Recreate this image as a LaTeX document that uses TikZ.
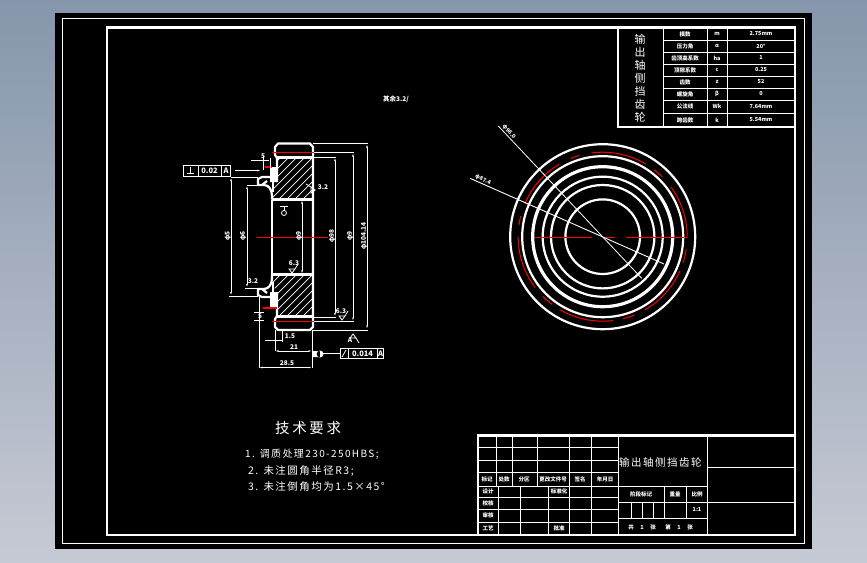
\documentclass[tikz,border=0pt]{standalone}
\usepackage{fontspec}
\setmainfont{Noto Sans CJK SC}
\newfontfamily\cjkw[LetterSpace=14]{Noto Sans CJK SC}
\usetikzlibrary{arrows.meta}
\definecolor{bgtop}{RGB}{134,150,172}
\definecolor{bgbot}{RGB}{198,202,212}
\definecolor{redline}{RGB}{255,0,0}
\tikzset{
  x=1pt,y=-1pt,
  frame/.style={draw=white,line width=2.4pt},
  thinframe/.style={draw=white,line width=1pt},
  grid/.style={draw=white,line width=1pt},
  outline/.style={draw=white,line width=2.2pt,line join=round},
  redc/.style={draw=redline,line width=1.3pt},
  dim/.style={draw=white,line width=0.8pt},
  dimarrow/.style={dim,{Latex[length=3.5pt,width=1.8pt]}-{Latex[length=3.5pt,width=1.8pt]}},
  hatchline/.style={draw=white,line width=0.7pt},
  tiny/.style={text=white,font=\fontsize{5.5}{5.5}\selectfont\bfseries,inner sep=0pt},
  dimtext/.style={text=white,font=\fontsize{6.5}{6.5}\selectfont\bfseries,inner sep=0pt},
  fcf/.style={text=white,font=\fontsize{7.5}{8}\selectfont\bfseries,inner sep=0pt},
  cjkbig/.style={text=white,font=\fontsize{10.5}{11}\selectfont\cjkw,inner sep=0pt,anchor=west},
  sfin/.pic={\draw[dim] (-3,-4) -- (0,0) -- (3,-4) -- cycle (3,-4) -- (6,-9);}
}
\begin{document}
\begin{tikzpicture}
\useasboundingbox (0,0) rectangle (867,562);
\shade[top color=bgtop,bottom color=bgbot] (0,0) rectangle (867,562);
\fill[black] (55,13) rectangle (812,549);
\draw[thinframe] (62,18.5) rectangle (804.5,543.5);
\draw[frame] (107,27.5) rectangle (795,535);

% ---------- parameter table
\draw[frame] (618,27.5) -- (618,127) -- (795,127);
\foreach \yy in {40,52,64,76,88,100,113} \draw[grid] (663,\yy) -- (795,\yy);
\foreach \xx in {663,707,727} \draw[grid] (\xx,27.5) -- (\xx,127);
\foreach \ch [count=\i] in {输,出,轴,侧,挡,齿,轮}
  \node[text=white,font=\fontsize{11}{11}\selectfont,inner sep=0pt] (tc\i) at (640,{26+\i*13}) {\ch};
\foreach \a/\b/\c/\yy [count=\i] in {
  模数/m/2.75mm/34, 压力角/α/20°/46, 齿顶高系数/ha/1/58, 顶隙系数/c/0.25/70,
  齿数/z/52/82, 螺旋角/β/0/94, 公法线/Wk/7.64mm/106.5, 跨齿数/k/5.54mm/120}{
  \node[tiny] (pa\i) at (685,\yy) {\a};
  \node[tiny] (pb\i) at (717,\yy) {\b};
  \node[tiny] (pc\i) at (761,\yy) {\c};
}

% ---------- title block
\draw[frame] (478,435.5) rectangle (795,535);
\draw[grid] (478,447) -- (618,447) (478,460) -- (618,460) (478,472) -- (618,472);
\draw[grid] (478,486) -- (707,486) (478,497) -- (618,497) (478,509) -- (618,509) (478,522) -- (618,522);
\foreach \xx in {496,512,537,569,591} \draw[grid] (\xx,435.5) -- (\xx,486);
\foreach \xx in {498,520,548,569,591} \draw[grid] (\xx,486) -- (\xx,535);
\draw[grid] (618,435.5) -- (618,535) (707,435.5) -- (707,535);
\draw[grid] (618,502) -- (707,502) (618,518) -- (707,518);
\draw[grid] (664,486) -- (664,518) (686,486) -- (686,518);
\foreach \xx in {631,642,653} \draw[grid] (\xx,502) -- (\xx,518);
\draw[grid] (707,467) -- (795,467) (707,502) -- (795,502);
\node[cjkbig] (ttl) at (619,462) {输出轴侧挡齿轮};
\foreach \t/\xx/\yy [count=\i] in {
  标记/487/479, 处数/504/479, 分区/524/479, 更改文件号/553/479, 签名/580/479, 年月日/605/479,
  设计/488/491, 校核/488/503, 审核/488/515.5, 工艺/488/528.5, 标准化/559/491, 批准/559/528.5,
  阶段标记/641/494, 重量/675/494, 比例/697/494,
  共/631/527, 张/653/527, 第/668/527, 张/690/527}{
  \node[tiny] (tb\i) at (\xx,\yy) {\t};
}
\node[tiny] (tbs) at (697,510) {1:1};
\node[tiny] (tbn1) at (642,527) {1};
\node[tiny] (tbn2) at (679,527) {1};

% ---------- technical requirements
\node[text=white,font=\fontsize{14.5}{15}\selectfont,inner sep=0pt,anchor=west] (req) at (275,428) {\addfontfeature{LetterSpace=18}技术要求};
\node[cjkbig,font=\fontsize{10}{11}\selectfont\cjkw] (r1) at (245,454) {1. 调质处理230-250HBS;};
\node[cjkbig] (r2) at (248,471) {2. 未注圆角半径R3;};
\node[cjkbig] (r3) at (248,487) {3. 未注倒角均为1.5×45°};

% ---------- section view: hatching
\begin{scope}
\clip (277,158) -- (313,158) -- (313,199) -- (273,199) -- (273,190) -- (277,180) -- cycle;
\foreach \k in {230,238,...,330} \draw[hatchline] (\k,200) -- (\k+50,150);
\end{scope}
\begin{scope}
\clip (277,316) -- (313,316) -- (313,275) -- (273,275) -- (273,284) -- (277,294) -- cycle;
\foreach \k in {230,238,...,330} \draw[hatchline] (\k,325) -- (\k+60,265);
\end{scope}

% ---------- section view: outline
\draw[outline] (272,199.5) -- (272,196) .. controls (272,190) and (269,185) .. (264,185) -- (258,185) -- (258,179) -- (262,177) -- (270,177) (262,185) -- (267,181);
\draw[outline] (277,182) -- (277,158) -- (275,155) -- (275,147) -- (278,143.5) -- (310,143.5) -- (313,147) -- (313,327) -- (310,330) -- (278,330) -- (275,327) -- (275,319) -- (277,316) -- (277,292);
\draw[outline] (272,274.5) -- (272,278) .. controls (272,284) and (269,289) .. (264,289) -- (258,289) -- (258,295) -- (262,297) -- (270,297) (262,289) -- (267,293);
\draw[outline] (272,199.5) -- (272,274.5);
\draw[outline] (272,199.5) -- (313,199.5) (272,274.5) -- (313,274.5) (277,157.5) -- (313,157.5) (277,316.5) -- (313,316.5);
\fill[white] (270,167) rectangle (277,182) (270,292) rectangle (277,308);
\draw[outline] (273,182) -- (273,192) (273,292) -- (273,282);
\draw[redc] (272,152.5) -- (314,152.5) (272,321.5) -- (314,321.5) (265,167) -- (272,167) (263,308) -- (277,308);
\draw[redc] (257,237.5) -- (328,237.5);

% ---------- section view: dimensions
\draw[dim] (313,143.5) -- (368,143.5) (313,330) -- (368,330) (314,152.5) -- (354,152.5) (314,321.5) -- (354,321.5)
           (313,157) -- (336,157) (313,317) -- (336,317) (231,177) -- (258,177) (229,296) -- (258,296)
           (247,185) -- (258,185) (245,288) -- (262,288);
\draw[dimarrow] (367,144) -- (367,329);
\draw[dimarrow] (353,153) -- (353,321);
\draw[dimarrow] (335,157.5) -- (335,316.5);
\draw[dimarrow] (302,200) -- (302,274);
\draw[dimarrow] (231,177.5) -- (231,295.5);
\draw[dimarrow] (247,185.5) -- (247,287.5);
\draw[dim] (251,160.5) -- (269,160.5) (263,156) -- (263,170) (270,158) -- (270,170);
\draw[dim] (259,296) -- (259,368) (312,330) -- (312,368) (275,330) -- (275,351) (265,340) -- (282,340) (282,330) -- (282,342) (254,312) -- (264,312) (254,320) -- (264,320);
\draw[dimarrow] (275,351) -- (312,351);
\draw[dimarrow] (259,367.5) -- (312,367.5);
\node[dimtext] (d1) at (263,156.5) {5};
\node[dimtext] (d2) at (290,336) {1.5};
\node[dimtext] (d3) at (294,347) {21};
\node[dimtext] (d4) at (287,363) {28.5};
\node[dimtext] (d5) at (260,316) {5};
\node[dimtext,rotate=90] (d6) at (228,236) {φ5};
\node[dimtext,rotate=90] (d7) at (243,236) {φ6};
\node[dimtext,rotate=90] (d8) at (299,236) {φ9};
\node[dimtext,rotate=90] (d9) at (332,236) {φ98};
\node[dimtext,rotate=90] (d10) at (350,236) {φ9};
\node[dimtext,rotate=90] (d11) at (364,236) {φ104.14};
\pic at (315,190) [rotate=90] {sfin};
\pic at (292,273) {sfin};
\pic at (342,320) {sfin};
\pic at (353,334) [yscale=-1] {sfin};
\node[dimtext] (s1) at (323,187) {3.2};
\node[dimtext] (s2) at (294,263) {6.3};
\node[dimtext] (s3) at (341,311) {6.3};
\node[dimtext] (s4) at (350,340) {A};
\node[dimtext] (s5) at (253,281) {3.2};
\draw[dim] (280,206) -- (288,206) (284,206) -- (284,211);
\draw[dim] (284,213) circle[radius=2.5];
\node[text=white,font=\fontsize{6.5}{7}\selectfont\bfseries,inner sep=0pt] (note) at (396,99) {其余3.2/};

% ---------- geometric tolerance frames
\node[draw=white,line width=0.9pt,minimum width=47pt,minimum height=11pt,inner sep=0pt] (f1) at (206.5,170.5) {};
\draw[grid] (198,165) -- (198,176) (221,165) -- (221,176);
\draw[dim] (187,173) -- (194,173) (190.5,167) -- (190.5,173);
\node[fcf] (f1a) at (209.5,170.5) {0.02};
\node[fcf] (f1b) at (226,170.5) {A};
\coordinate (f1end) at (261,170.5);
\draw[dim,-{Latex[length=4pt,width=2pt]}] (235,170.5) -- (f1end);
\node[draw=white,line width=0.9pt,minimum width=43pt,minimum height=10pt,inner sep=0pt] (f2) at (361.5,353.5) {};
\draw[grid] (348,348.5) -- (348,358.5) (377,348.5) -- (377,358.5);
\draw[dim] (342,357) -- (346,350);
\node[fcf] (f2a) at (362.5,353.5) {0.014};
\node[fcf] (f2b) at (380.5,353.5) {A};
\draw[dim] (f2.west) -- (323,353.5);
\fill[white] (312,351) rectangle (320,357) (320,354) circle[radius=3.5];

% ---------- end view
\foreach \r/\w in {92.5/2.2,80.5/2.2,70/3.2,60/2.2,51.7/2.2,37.3/2.2}
  \draw[draw=white,line width=\w pt] (602.7,236.7) circle[radius=\r];
\foreach \p/\q in {97.5/59.4,52.5/45,36/0,-8.6/-18,-24/-60,-68/-76,-83/-120,-127/-135,-143/-180,172/166,157/121,112/106}
  \draw[redc,line width=1pt] plot[domain=\p:\q,samples=24,smooth] ({602.7+84.5*cos(\x)},{236.7-84.5*sin(\x)});
\draw[redc] (535,237.5) -- (591.7,237.5) (603.3,237.5) -- (615,237.5) (626,237.5) -- (686.7,237.5);
\draw[draw=white,line width=0.8pt] (498.3,126) -- (641.7,278.3);
\draw[draw=white,line width=0.9pt] (470,178.3) -- (664,264);
\node[dimtext,rotate=-48,font=\fontsize{5.5}{5.5}\selectfont\bfseries] (c1) at (509,132) {φ96.0};
\node[dimtext,rotate=-24,font=\fontsize{5.5}{5.5}\selectfont\bfseries] (c2) at (483,180) {φ87.4};
\end{tikzpicture}
\end{document}
